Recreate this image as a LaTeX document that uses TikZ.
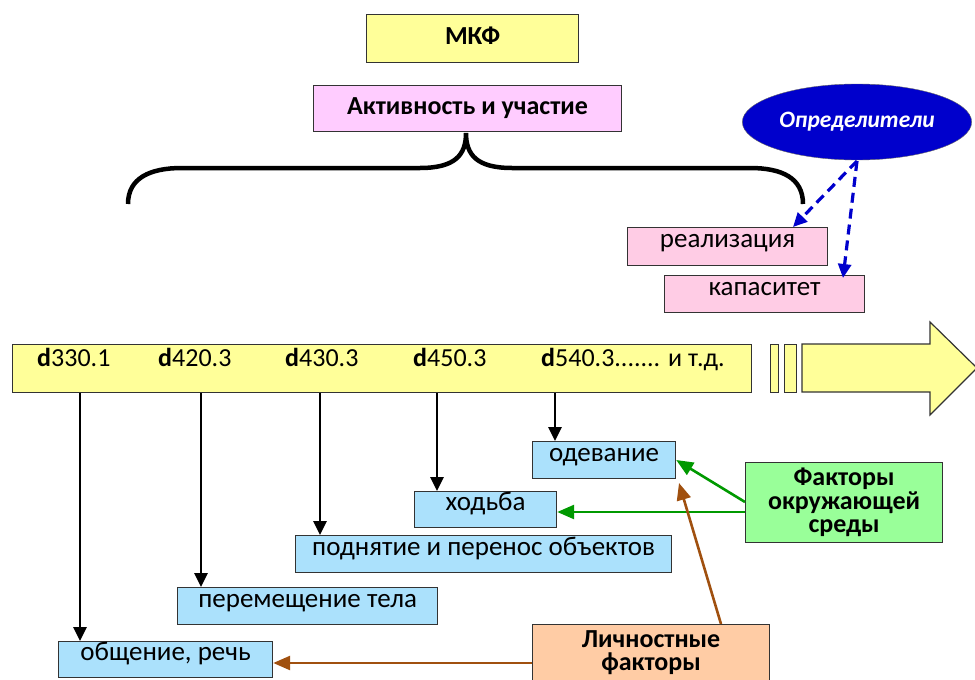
\documentclass[tikz,border=0pt]{standalone}
\usepackage{fontspec}
\setmainfont{Carlito}
\usetikzlibrary{arrows.meta,shapes.geometric}
\definecolor{yel}{HTML}{FFFF99}
\definecolor{pinkA}{HTML}{FFCCFF}
\definecolor{pinkB}{HTML}{FFCCE5}
\definecolor{lblue}{HTML}{ABE1FC}
\definecolor{lgreen}{HTML}{99FF99}
\definecolor{peach}{HTML}{FFCCA5}
\definecolor{dblue}{HTML}{0000CC}
\definecolor{ggreen}{HTML}{009900}
\definecolor{brn}{HTML}{A0500F}
\begin{document}
\begin{tikzpicture}[x=1pt,y=-1pt,
  box/.style={draw=black!80, line width=1.2pt, anchor=north west, inner sep=0pt,
    font=\fontsize{27}{30}\selectfont, text height=18pt, text depth=16pt},
  title/.style={box, font=\fontsize{26}{30}\selectfont\bfseries, text height=18pt, text depth=6pt},
  multi/.style={box, align=center, font=\fontsize{26}{23.5}\selectfont\bfseries,
    text height=, text depth=},
  code/.style={anchor=base west, font=\fontsize{26}{28}\selectfont, inner sep=0pt},
  down/.style={line width=2.7pt, -{Triangle[length=14pt,width=13pt]}},
  dsharr/.style={dblue, line width=3.2pt, dash pattern=on 10pt off 6pt, -{Triangle[length=14pt,width=13pt]}},
  envarr/.style={ggreen, line width=2.6pt, -{Triangle[length=17pt,width=14pt]}},
  persarr/.style={brn, line width=2.6pt, -{Triangle[length=17pt,width=14pt]}}]
\useasboundingbox (0,0) rectangle (975,680);

% headers
\node[title, fill=yel, minimum width=212pt, minimum height=48pt] (mkf) at (366,14) {МКФ};
\node[title, fill=pinkA, minimum width=308pt, minimum height=46pt] (act) at (313,85) {Активность и участие};

% curly brace under the activity box
\coordinate (bl) at (128,204);
\coordinate (br) at (803,204);
\coordinate (tip) at (466,133);
\draw[line width=4.5pt] (bl) .. controls (128,178) and (150,168) .. (182,168) -- (420,168)
  .. controls (455,168) and (466,155) .. (tip)
  .. controls (466,155) and (477,168) .. (512,168) -- (750,168)
  .. controls (782,168) and (803,178) .. (br);

% determinants
\node[ellipse, fill=dblue, draw=black!60, minimum width=224pt, minimum height=76pt,
  text=white, font=\fontsize{23.5}{26}\selectfont\bfseries\itshape] (det) at (857,122) {Определители};
\node[box, fill=pinkB, minimum width=200pt, minimum height=38pt] (real) at (627,227) {реализация};
\node[box, fill=pinkB, minimum width=200pt, minimum height=37pt] (cap) at (664,275) {капаситет};
\coordinate (dsrc) at (857,161);
\draw[dsharr] (dsrc) -- (793,227);
\draw[dsharr] (dsrc) -- (843,278);

% domain bar
\node[draw=black!80, line width=1.2pt, fill=yel, anchor=north west, inner sep=0pt,
  minimum width=739pt, minimum height=48pt] (bar) at (12,344) {};
\node[code] (c1) at (37,366) {\textbf{d}330.1};
\node[code] (c2) at (158,366) {\textbf{d}420.3};
\node[code] (c3) at (285,366) {\textbf{d}430.3};
\node[code] (c4) at (413,366) {\textbf{d}450.3};
\node[code] (c5) at (541,366) {\textbf{d}540.3....... и т.д.};

% continuation arrow
\node[draw=black!80, line width=1.2pt, fill=yel, anchor=north west, inner sep=0pt, minimum width=8pt, minimum height=48pt] (s1) at (770,344) {};
\node[draw=black!80, line width=1.2pt, fill=yel, anchor=north west, inner sep=0pt, minimum width=12pt, minimum height=48pt] (s2) at (784,344) {};
\draw[draw=black!80, line width=1.2pt, fill=yel] (802,344) -- (930,344) -- (930,322) -- (977,368)
  -- (930,415) -- (930,392) -- (802,392) -- cycle;

% activity boxes
\node[box, fill=lblue, minimum width=143pt, minimum height=37pt] (dress) at (532,441) {одевание};
\node[box, fill=lblue, minimum width=142pt, minimum height=36pt] (walk) at (414,491) {ходьба};
\node[box, fill=lblue, minimum width=376pt, minimum height=37pt] (lift) at (295,535) {поднятие и перенос объектов};
\node[box, fill=lblue, minimum width=260pt, minimum height=37pt] (move) at (177,587) {перемещение тела};
\node[box, fill=lblue, minimum width=214pt, minimum height=36pt] (talk) at (58,641) {общение, речь};

\draw[down] (bar.south -| 80,0) -- (talk.north -| 80,0);
\draw[down] (bar.south -| 201,0) -- (move.north -| 201,0);
\draw[down] (bar.south -| 320,0) -- (lift.north -| 320,0);
\draw[down] (bar.south -| 437,0) -- (walk.north -| 437,0);
\draw[down] (bar.south -| 555,0) -- (dress.north -| 555,0);

% factors
\node[multi, fill=lgreen, minimum width=197pt, minimum height=80pt] (env) at (745,462) {Факторы\\окружающей\\среды};
\node[multi, fill=peach, minimum width=237pt, minimum height=56pt] (pers) at (532,624) {Личностные\\факторы};

\draw[envarr] (env.west |- 0,502) -- (dress.east |- 0,460);
\draw[envarr] (env.west |- 0,512) -- (walk.east |- 0,512);
\draw[persarr] (pers.north -| 721,0) -- (679,483);
\draw[persarr] (pers.west |- 0,663) -- (talk.east |- 0,663);
\end{tikzpicture}
\end{document}
